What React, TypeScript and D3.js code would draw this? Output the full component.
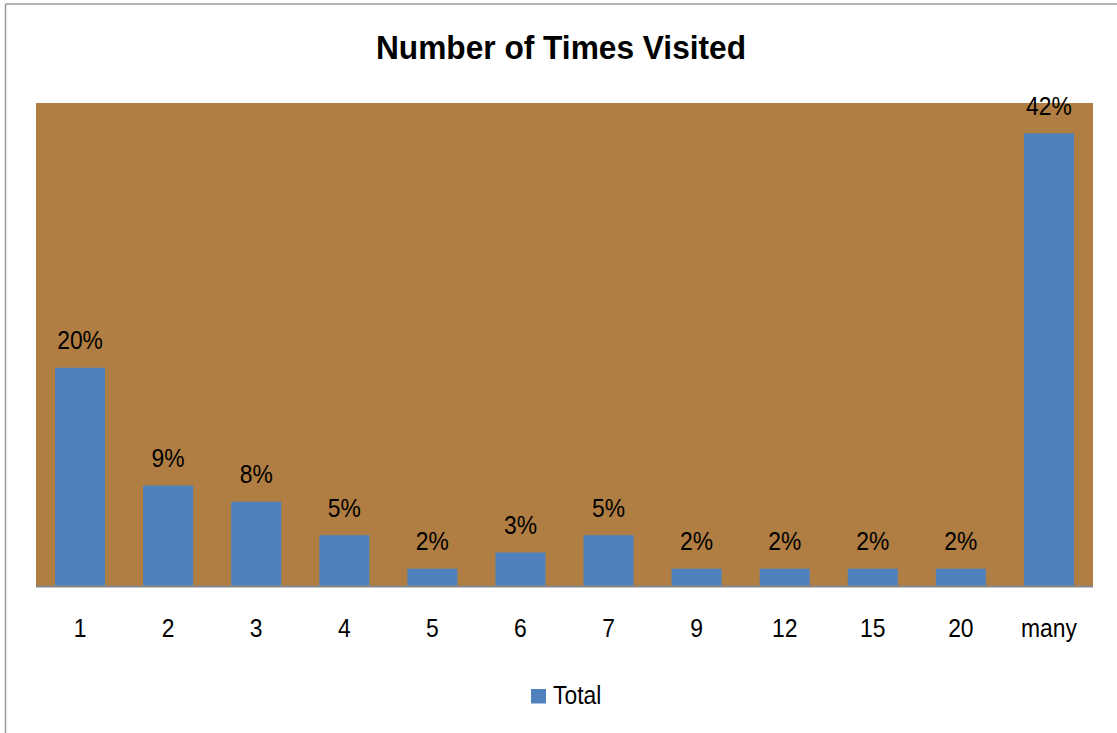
import React from "react";
import * as d3 from "d3";

const categories = ["1", "2", "3", "4", "5", "6", "7", "9", "12", "15", "20", "many"];
const values = [20.2, 9.3, 7.8, 4.7, 1.6, 3.1, 4.7, 1.6, 1.6, 1.6, 1.6, 41.9];
const valueLabels = ["20%", "9%", "8%", "5%", "2%", "3%", "5%", "2%", "2%", "2%", "2%", "42%"];
const seriesName = "Total";
const title = "Number of Times Visited";
const yMax = 44.7;

const W = 1117;
const H = 733;
const plot = { left: 36, right: 1093, top: 103, bottom: 586 };
const BAR = "#4F81BD";
const BG = "#B07E42";
const FONT = "'Liberation Sans', Arial, sans-serif";
const SX = 0.88;

function Label({ x, y, text, anchor = "middle", size = 26 }: { x: number; y: number; text: string; anchor?: string; size?: number }) {
  return (
    <g transform={`translate(${x},${y}) scale(${SX},1)`}>
      <text x={0} y={0} textAnchor={anchor} fontSize={size} fill="#000">
        {text}
      </text>
    </g>
  );
}

export default function App() {
  const x = d3
    .scaleBand<string>()
    .domain(categories)
    .range([plot.left, plot.right])
    .paddingInner(0.432)
    .paddingOuter(0.216);
  const y = d3.scaleLinear().domain([0, yMax]).range([plot.bottom, plot.top]);

  return (
    <svg
      width={W}
      height={H}
      style={{ position: "absolute", left: 0, top: 0, background: "#fff" }}
      fontFamily={FONT}
    >
      {/* outer frame */}
      <line x1={5.5} y1={4} x2={W} y2={4} stroke="#9a9a9a" strokeWidth={1.5} />
      <line x1={5.5} y1={4} x2={5.5} y2={H} stroke="#9a9a9a" strokeWidth={1.5} />

      <g transform={`translate(561,59) scale(0.96,1)`}>
        <text x={0} y={0} textAnchor="middle" fontSize={33} fontWeight="bold" fill="#000">
          {title}
        </text>
      </g>

      <rect
        x={plot.left}
        y={plot.top}
        width={plot.right - plot.left}
        height={plot.bottom - plot.top}
        fill={BG}
      />

      {categories.map((c, i) => {
        const cx = x(c)! + x.bandwidth() / 2;
        return (
          <g key={c}>
            <rect
              x={x(c)!}
              y={y(values[i])}
              width={x.bandwidth()}
              height={y(0) - y(values[i])}
              fill={BAR}
            />
            <Label x={cx} y={y(values[i]) - 18.4} text={valueLabels[i]} />
            <Label x={cx} y={637} text={c} />
          </g>
        );
      })}

      <line
        x1={plot.left}
        x2={plot.right}
        y1={plot.bottom + 0.5}
        y2={plot.bottom + 0.5}
        stroke="#868686"
        strokeWidth={2}
      />

      <rect x={531} y={689} width={15} height={14.5} fill={BAR} />
      <Label x={553} y={704} text={seriesName} anchor="start" />
    </svg>
  );
}
